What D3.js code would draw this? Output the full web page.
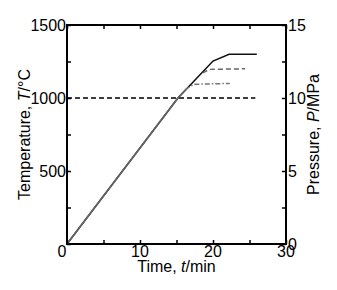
<!DOCTYPE html>
<html>
<head>
<meta charset="utf-8">
<script src="https://cdn.jsdelivr.net/npm/d3@7"></script>
<style>
  body { margin: 0; background: #fff; }
  text { font-family: "Liberation Sans", Arial, sans-serif; }
</style>
</head>
<body>
<div id="chart"></div>
<script>
// curves (time in min, temperature in °C)
var mainTime = [0, 15.2, 20, 22.2, 26];
var mainTemp = [0, 1000, 1253, 1300, 1300];
var greyTime = [0, 15.2, 16.3];
var greyTemp = [0, 1000, 1060];
var dashTime = [18.6, 19.5, 24.4];
var dashTemp = [1172, 1196, 1200];
var dashDotTime = [16.2, 17.4, 22.3];
var dashDotTemp = [1058, 1094, 1100];
var pressTime = [0, 25.8];
var pressVal = [10, 10];

var xTicks = [0, 10, 20, 30];
var yTicks = [0, 500, 1000, 1500];
var y2Ticks = [0, 5, 10, 15];

const width = 337, height = 290;
var margin = {top: 25, right: 51, bottom: 46, left: 67};
var w = width - margin.left - margin.right,
    h = height - margin.top - margin.bottom;

var x = d3.scaleLinear().domain([0, 30]).range([0, w]);
var y = d3.scaleLinear().domain([0, 1500]).range([h, 0]);
var y2 = d3.scaleLinear().domain([0, 15]).range([h, 0]);

var svg = d3.select("#chart").append("svg")
    .attr("width", width)
    .attr("height", height);

var g = svg.append("g")
    .attr("transform", "translate(" + margin.left + "," + margin.top + ")");

function zip(a, b) { return a.map(function(v, i) { return [v, b[i]]; }); }

var line = d3.line()
    .x(function(d) { return x(d[0]); })
    .y(function(d) { return y(d[1]); });
var line2 = d3.line()
    .x(function(d) { return x(d[0]); })
    .y(function(d) { return y2(d[1]); });

// data lines
g.append("path").attr("d", line2(zip(pressTime, pressVal)))
    .attr("fill", "none").attr("stroke", "#000").attr("stroke-width", 1.6)
    .attr("stroke-dasharray", "5,3");
g.append("path").attr("d", line(zip(mainTime, mainTemp)))
    .attr("fill", "none").attr("stroke", "#111").attr("stroke-width", 1.6);
g.append("path").attr("d", line(zip(greyTime, greyTemp)))
    .attr("fill", "none").attr("stroke", "#666").attr("stroke-width", 1.6);
g.append("path").attr("d", line(zip(dashTime, dashTemp)))
    .attr("fill", "none").attr("stroke", "#666").attr("stroke-width", 1.5)
    .attr("stroke-dasharray", "5,3");
g.append("path").attr("d", line(zip(dashDotTime, dashDotTemp)))
    .attr("fill", "none").attr("stroke", "#777").attr("stroke-width", 1.5)
    .attr("stroke-dasharray", "5,2,1.5,2");

// axes with inward ticks, labels drawn separately
var tickLen = 4;
g.append("g").attr("transform", "translate(0," + h + ")")
    .call(d3.axisBottom(x).tickValues(d3.range(0, 31, 5)).tickSizeInner(-tickLen).tickSizeOuter(0).tickFormat(""));
g.append("g")
    .call(d3.axisTop(x).tickValues(d3.range(0, 31, 5)).tickSizeInner(-tickLen).tickSizeOuter(0).tickFormat(""));
g.append("g")
    .call(d3.axisLeft(y).tickValues(d3.range(0, 1501, 250)).tickSizeInner(-tickLen).tickSizeOuter(0).tickFormat(""));
g.append("g").attr("transform", "translate(" + w + ",0)")
    .call(d3.axisRight(y2).tickValues(d3.range(0, 15.1, 2.5)).tickSizeInner(-tickLen).tickSizeOuter(0).tickFormat(""));
g.selectAll(".domain").remove();
g.selectAll(".tick line").attr("stroke", "#000").attr("stroke-width", 1.5);

g.append("rect").attr("width", w).attr("height", h)
    .attr("fill", "none").attr("stroke", "#000").attr("stroke-width", 2);

// tick labels
g.selectAll(".xl").data(xTicks).join("text")
    .attr("x", function(d) { return x(d) - (d === 0 ? 5 : 0); })
    .attr("y", h + 13)
    .attr("text-anchor", "middle").attr("font-size", 16).text(function(d) { return d; });
g.selectAll(".yl").data(yTicks.filter(function(d) { return d > 0; })).join("text")
    .attr("x", -1).attr("y", function(d) { return y(d) + 6; })
    .attr("text-anchor", "end").attr("font-size", 16).text(function(d) { return d; });
g.selectAll(".y2l").data(y2Ticks).join("text")
    .attr("x", w + 2).attr("y", function(d) { return y2(d) + 6; })
    .attr("text-anchor", "start").attr("font-size", 16).text(function(d) { return d; });

// axis titles
var xt = g.append("text").attr("x", w / 2).attr("y", h + 28)
    .attr("text-anchor", "middle").attr("font-size", 16);
xt.append("tspan").text("Time, ");
xt.append("tspan").attr("font-style", "italic").text("t");
xt.append("tspan").text("/min");

var yt = svg.append("text")
    .attr("transform", "translate(30," + (margin.top + h / 2) + ") rotate(-90)")
    .attr("text-anchor", "middle").attr("font-size", 16);
yt.append("tspan").text("Temperature, ");
yt.append("tspan").attr("font-style", "italic").text("T");
yt.append("tspan").text("/°C");

var y2t = svg.append("text")
    .attr("transform", "translate(319," + (margin.top + h / 2) + ") rotate(-90)")
    .attr("text-anchor", "middle").attr("font-size", 16);
y2t.append("tspan").text("Pressure, ");
y2t.append("tspan").attr("font-style", "italic").text("P");
y2t.append("tspan").text("/MPa");
</script>
</body>
</html>
